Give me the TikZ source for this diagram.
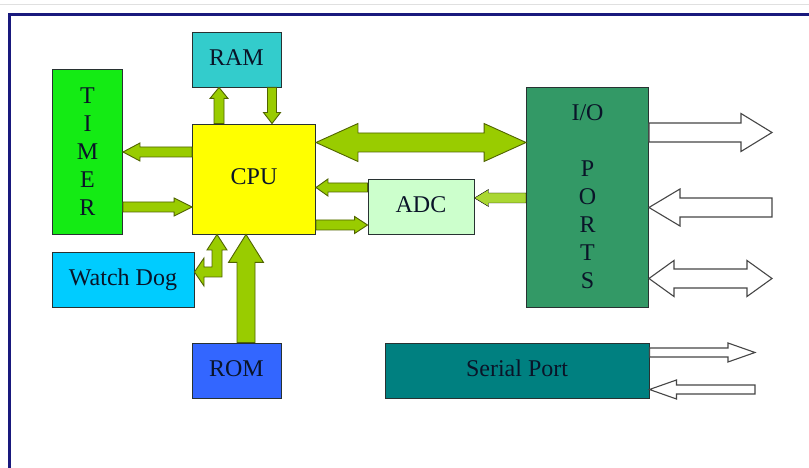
\documentclass[tikz,border=0pt]{standalone}
\usepackage{fontspec}
\setmainfont{Liberation Serif}
\usetikzlibrary{calc}
\definecolor{Ink}{RGB}{10,20,40}
\definecolor{BoxLine}{RGB}{40,50,50}
\definecolor{Frame}{RGB}{25,25,125}
\definecolor{RamCyan}{RGB}{51,204,204}
\definecolor{TimerGreen}{RGB}{20,235,20}
\definecolor{CpuYellow}{RGB}{255,255,0}
\definecolor{DogBlue}{RGB}{0,204,255}
\definecolor{RomBlue}{RGB}{51,102,255}
\definecolor{AdcGreen}{RGB}{204,255,204}
\definecolor{IoGreen}{RGB}{51,153,102}
\definecolor{SerialTeal}{RGB}{0,128,128}
\definecolor{BusFill}{RGB}{153,204,0}
\definecolor{BusLine}{RGB}{80,100,0}
\definecolor{FeedFill}{RGB}{170,215,50}
\definecolor{PortLine}{RGB}{70,70,70}
\tikzset{
  box/.style={draw=BoxLine,line width=0.9pt,inner sep=0pt,font=\fontsize{24}{28}\selectfont,text=Ink,align=center},
  shaft/.store in=\shaftw, headw/.store in=\headhw, headl/.store in=\headlen,
  shaft=5, headw=9, headl=12,
  onearrow/.style={to path={
    ($(\tikztotarget)!\headlen pt!(\tikztostart)$) coordinate (hb)
    ($(\tikztostart)!\shaftw pt!90:(\tikztotarget)$)
    -- ($(hb)!\shaftw pt!90:(\tikztotarget)$)
    -- ($(hb)!\headhw pt!90:(\tikztotarget)$)
    -- (\tikztotarget)
    -- ($(hb)!\headhw pt!-90:(\tikztotarget)$)
    -- ($(hb)!\shaftw pt!-90:(\tikztotarget)$)
    -- ($(\tikztostart)!\shaftw pt!-90:(\tikztotarget)$)
    -- cycle}},
  twoarrow/.style={to path={
    ($(\tikztotarget)!\headlen pt!(\tikztostart)$) coordinate (hb)
    ($(\tikztostart)!\headlen pt!(\tikztotarget)$) coordinate (ha)
    (\tikztostart)
    -- ($(ha)!\headhw pt!90:(\tikztotarget)$)
    -- ($(ha)!\shaftw pt!90:(\tikztotarget)$)
    -- ($(hb)!\shaftw pt!90:(\tikztotarget)$)
    -- ($(hb)!\headhw pt!90:(\tikztotarget)$)
    -- (\tikztotarget)
    -- ($(hb)!\headhw pt!-90:(\tikztotarget)$)
    -- ($(hb)!\shaftw pt!-90:(\tikztotarget)$)
    -- ($(ha)!\shaftw pt!-90:(\tikztotarget)$)
    -- ($(ha)!\headhw pt!-90:(\tikztotarget)$)
    -- cycle}},
  bus/.style={fill=BusFill,draw=BusLine,line width=0.9pt},
  feed/.style={fill=FeedFill},
  port/.style={fill=white,draw=PortLine,line width=1.1pt}
}

\begin{document}
\begin{tikzpicture}[x=1pt,y=1pt]
\useasboundingbox (0,0) rectangle (809,468);
\fill[white] (0,0) rectangle (809,468);
\draw[black!12,line width=0.8pt] (0,464) -- (809,464);
\draw[Frame,line width=3pt] (809,453) -| (9,0);

% blocks
\node[box,fill=RamCyan,minimum width=89pt,minimum height=55pt] (ram) at (236.5,408.5) {RAM\strut};
\node[box,fill=TimerGreen,minimum width=70pt,minimum height=165pt] (timer) at (87.5,316.5) {T\\I\\M\\E\\R};
\node[box,fill=CpuYellow,minimum width=123pt,minimum height=110pt] (cpu) at (254,289) {CPU\strut};
\node[box,fill=DogBlue,minimum width=142pt,minimum height=55pt] (wd) at (123,188.5) {Watch Dog\strut};
\node[box,fill=RomBlue,minimum width=89pt,minimum height=55pt] (rom) at (236.5,97.5) {ROM\strut};
\node[box,fill=AdcGreen,minimum width=106pt,minimum height=55pt] (adc) at (421,261.5) {ADC\strut};
\node[box,fill=IoGreen,minimum width=122pt,minimum height=220pt] (io) at (587.5,271) {I/O\\[28pt]P\\O\\R\\T\\S};
\node[box,fill=SerialTeal,minimum width=264pt,minimum height=55pt] (serial) at (517,97.5) {Serial Port\strut};

% free ends
\coordinate (out1) at (772,335.5);
\coordinate (in1) at (772,260.5);
\coordinate (bi1) at (772,189.5);
\coordinate (sout) at (755,115.5);
\coordinate (sin) at (755,78.5);
\coordinate (wdc) at (217,196);

% buses round the cpu
\draw[bus,onearrow,shaft=5,headw=9,headl=11] (cpu.north -| 219,0) to (ram.south -| 219,0);
\draw[bus,onearrow,shaft=4.5,headw=8.5,headl=11] (ram.south -| 272,0) to (cpu.north -| 272,0);
\draw[bus,onearrow,shaft=5,headw=9,headl=17] (cpu.west |- 0,316) to (timer.east |- 0,316);
\draw[bus,onearrow,shaft=5,headw=9,headl=18] (timer.east |- 0,261) to (cpu.west |- 0,261);
\draw[bus,twoarrow,shaft=9.5,headw=19,headl=42] (cpu.east |- 0,325.5) to (io.west |- 0,325.5);
\draw[bus,onearrow,shaft=4.5,headw=8.5,headl=12] (adc.west |- 0,280.5) to (cpu.east |- 0,280.5);
\draw[bus,onearrow,shaft=5,headw=8.5,headl=13] (cpu.east |- 0,243) to (adc.west |- 0,243);
\draw[feed,onearrow,shaft=5,headw=8.5,headl=14] (io.west |- 0,270) to (adc.east |- 0,270);
\draw[bus,onearrow,shaft=9,headw=17.5,headl=28] (rom.north -| 246,0) to (cpu.south -| 246,0);
\draw[bus] (cpu.south -| wdc) -- ($(wdc)+(10,22)$) -- ($(wdc)+(5,22)$) -- ($(wdc)+(5,-5)$)
  -- ($(wdc)+(-13,-5)$) -- ($(wdc)+(-13,-14)$) -- (wd.east |- wdc) -- ($(wdc)+(-13,14)$)
  -- ($(wdc)+(-13,5)$) -- ($(wdc)+(-5,5)$) -- ($(wdc)+(-5,22)$) -- ($(wdc)+(-10,22)$) -- cycle;

% outside ports
\draw[port,onearrow,shaft=9.5,headw=19,headl=31] (io.east |- out1) to (out1);
\draw[port,onearrow,shaft=9.5,headw=18.5,headl=31] (in1) to (io.east |- in1);
\draw[port,twoarrow,shaft=9.5,headw=18,headl=25] (io.east |- bi1) to (bi1);
\draw[port,onearrow,shaft=4.5,headw=9.5,headl=27] (serial.east |- sout) to (sout);
\draw[port,onearrow,shaft=4.5,headw=9.5,headl=27] (sin) to (serial.east |- sin);
\end{tikzpicture}
\end{document}
